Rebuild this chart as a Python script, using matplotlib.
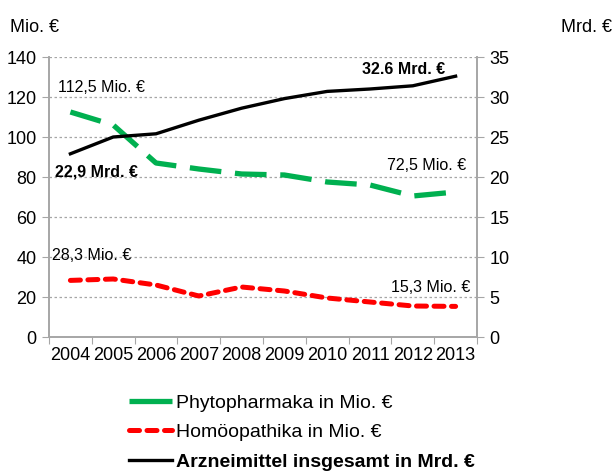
import numpy as np
import matplotlib.pyplot as plt
from matplotlib.lines import Line2D

plt.rcParams['font.family'] = ['Liberation Sans', 'DejaVu Sans']

years = ['2004', '2005', '2006', '2007', '2008', '2009', '2010', '2011', '2012', '2013']
phyto = [112.5, 106, 87, 84, 81.5, 81, 77.5, 76, 70.5, 72.5]
homoeo = [28.3, 29, 26, 20.5, 25, 23, 19.5, 17.5, 15.5, 15.3]
arznei = [22.9, 25.0, 25.4, 27.1, 28.6, 29.8, 30.7, 31.0, 31.4, 32.6]

green = '#00B050'
red = '#FF0000'
gray = '#A6A6A6'

fig = plt.figure(figsize=(6.14, 4.75), dpi=100)
ax = fig.add_axes([49 / 614, 1 - 337 / 475, 428 / 614, 280 / 475])
ax2 = ax.twinx()

x = np.arange(len(years))

ax.plot(x, phyto, color=green, lw=3.8, dashes=(6.0, 2.6), solid_capstyle='butt',
        dash_capstyle='butt', zorder=3)
ax.plot(x, homoeo, color=red, lw=3.6, dashes=(2.0, 1.5), dash_capstyle='round', zorder=3)
ax2.plot(x, arznei, color='black', lw=2.4, zorder=3)

ax.set_ylim(0, 140)
ax.set_yticks(np.arange(0, 141, 20))
ax2.set_ylim(0, 35)
ax2.set_yticks(np.arange(0, 36, 5))
ax.set_xlim(-0.5, 9.5)
ax.set_xticks(np.arange(-0.5, 10, 1))
ax.set_xticklabels([])
ax.set_xticks(x, minor=True)
ax.set_xticklabels(years, minor=True)
ax.tick_params(axis='x', which='minor', length=0, pad=7, labelsize=13)
ax.tick_params(axis='x', which='major', length=5, color=gray, direction='out')
ax.tick_params(axis='y', length=5, color=gray, labelsize=13, pad=4)
ax2.tick_params(axis='y', length=5, color=gray, labelsize=13, pad=4)

ax.grid(axis='y', color=gray, linestyle=(0, (2, 2)), lw=0.9)
ax.set_axisbelow(True)
for a in (ax, ax2):
    a.spines['top'].set_visible(False)
    for s in ('left', 'right', 'bottom'):
        a.spines[s].set_color(gray)
        a.spines[s].set_linewidth(1.2)

fig.text(10 / 614, 1 - 27 / 475, 'Mio. €', fontsize=13, va='center', ha='left')
fig.text(612 / 614, 1 - 27 / 475, 'Mrd. €', fontsize=13, va='center', ha='right')

ax.text(-0.28, 124.5, '112,5 Mio. €', fontsize=11.5, va='center', ha='left')
ax.text(-0.36, 82.5, '22,9 Mrd. €', fontsize=11.5, fontweight='bold', va='center', ha='left')
ax.text(8.75, 133.5, '32.6 Mrd. €', fontsize=11.5, fontweight='bold', va='center', ha='right')
ax.text(9.24, 85.5, '72,5 Mio. €', fontsize=11.5, va='center', ha='right')
ax.text(-0.43, 40.5, '28,3 Mio. €', fontsize=11.5, va='center', ha='left')
ax.text(9.34, 24.5, '15,3 Mio. €', fontsize=11.5, va='center', ha='right')

handles = [
    Line2D([], [], color=green, lw=3.8, solid_capstyle='butt'),
    Line2D([], [], color=red, lw=3.6, dashes=(2.0, 1.5), dash_capstyle='round'),
    Line2D([], [], color='black', lw=2.4),
]
labels = ['Phytopharmaka in Mio. €', 'Homöopathika in Mio. €',
          'Arzneimittel insgesamt in Mrd. €']
leg = fig.legend(handles, labels, loc='upper left', bbox_to_anchor=(129 / 614, 1 - 394 / 475),
                 frameon=False, fontsize=14, handlelength=2.2, handletextpad=0.2,
                 labelspacing=0.62, borderaxespad=0, borderpad=0)
leg.get_texts()[2].set_fontweight('bold')

fig.savefig('out.png', dpi=100)
